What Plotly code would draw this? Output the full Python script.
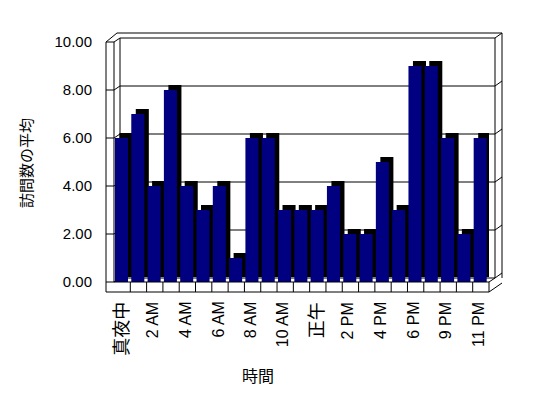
import plotly.graph_objects as go

# ---- data ----
hours = ["真夜中", "1 AM", "2 AM", "3 AM", "4 AM", "5 AM", "6 AM", "7 AM",
         "8 AM", "9 AM", "10 AM", "11 AM", "正午", "1 PM", "2 PM", "3 PM",
         "4 PM", "5 PM", "6 PM", "8 PM", "9 PM", "10 PM", "11 PM"]
visits = [6, 7, 4, 8, 4, 3, 4, 1, 6, 6, 3, 3, 3, 4, 2, 2, 5, 3, 9, 9, 6, 2, 6]
label_idx = [0, 2, 4, 6, 8, 10, 12, 14, 16, 18, 20, 22]
y_ticks = [0, 2, 4, 6, 8, 10]

# ---- layout geometry (window pixels; page body has an 8px margin) ----
BODY = 8
W, H = 548 - BODY, 398 - BODY
L, R, T, B = 114, 489, 42, 282          # front plane of plot area
ML, MR, MT, MB = L - BODY, 548 - R, T - BODY, 398 - B
n = len(hours)
cat_px = (R - L) / n
unit_px = (B - T) / 10.0
DX, DY = 4.5, 5.0                        # bar depth shading (px)
WALL = (6, 4)                            # depth to back wall face
OUT = (13, 9)                            # depth to outer wall edge
LW_X = 106                               # left wall front edge
FLOOR_Y = 292                            # floor front bottom edge
BAR_W, BAR_OFF = 0.8, -0.44
LABEL_TOP = 301
LABEL_SHIFT = -0.15

def px(x):
    return (x - L) / (R - L)

def py(y):
    return (B - y) / (B - T)

def vy(v):
    return B - v * unit_px

shapes = []
def seg(x0, y0, x1, y1, layer="above"):
    shapes.append(dict(type="line", xref="paper", yref="paper",
                       x0=px(x0), y0=py(y0), x1=px(x1), y1=py(y1),
                       line=dict(color="black", width=1), layer=layer))

# back wall gridlines and wall edges
for v in y_ticks:
    yf = vy(v)
    yb = yf - WALL[1]
    seg(L + WALL[0], yb, R + WALL[0], yb, layer="below")
    seg(L, yf, L + WALL[0], yb, layer="below")          # left wall diagonal
    seg(LW_X, yf, L, yf)                                  # left wall front face
    seg(R + WALL[0], yb, R + OUT[0], yf - OUT[1])         # right edge diagonal
seg(L + WALL[0], vy(10) - WALL[1], L + WALL[0], vy(0) - WALL[1], layer="below")
seg(R + WALL[0], vy(10) - WALL[1], R + WALL[0], vy(0) - WALL[1])
seg(R + OUT[0], vy(10) - OUT[1], R + OUT[0], vy(0) - OUT[1] + 5)
seg(LW_X + OUT[0] - 2, vy(10) - OUT[1], R + OUT[0], vy(10) - OUT[1])
seg(LW_X, vy(10), LW_X + OUT[0] - 2, vy(10) - OUT[1])
# left wall
seg(LW_X, vy(10), LW_X, FLOOR_Y)
seg(L, vy(10), L, B)
# floor
seg(L, B, R, B)
seg(LW_X, FLOOR_Y, R, FLOOR_Y)
for k in range(1, n + 1):
    seg(L + k * cat_px, B, L + k * cat_px, FLOOR_Y)
seg(R, FLOOR_Y, R + OUT[0], vy(0) - OUT[1] + 10)
seg(R, B, R + WALL[0], B - WALL[1])

fnt = "Liberation Sans, Arial, Noto Sans CJK JP"

fig = go.Figure()
x = list(range(n))
fig.add_trace(go.Bar(x=x, y=visits, base=DY / unit_px,
                     width=BAR_W, offset=BAR_OFF + DX / cat_px,
                     marker=dict(color="black", line=dict(width=0)),
                     hoverinfo="skip", showlegend=False))
fig.add_trace(go.Bar(x=x, y=visits, width=BAR_W, offset=BAR_OFF,
                     marker=dict(color="#000080", line=dict(width=0)),
                     showlegend=False))

annotations = []
for i in label_idx:
    s = hours[i]
    annotations.append(dict(
        text=s, xref="x", yref="paper", x=i + LABEL_SHIFT,
        y=py(LABEL_TOP), textangle=-90, showarrow=False,
        xanchor="center", yanchor="top", borderpad=0,
        font=dict(size=16 if s.isascii() else 18,
                  family=fnt if s.isascii() else "Noto Sans CJK JP")))
annotations += [
    dict(text="訪問数の平均", xref="paper", yref="paper",
         x=px(25), y=py(163), textangle=-90, showarrow=False,
         xanchor="center", yanchor="middle",
         font=dict(size=15, family="Noto Sans CJK JP")),
    dict(text="時間", xref="paper", yref="paper",
         x=px(258), y=py(375), showarrow=False,
         xanchor="center", yanchor="middle",
         font=dict(size=16, family="Noto Sans CJK JP")),
]

fig.update_layout(
    width=W, height=H, barmode="overlay",
    margin=dict(l=ML, r=MR, t=MT, b=MB, pad=0),
    paper_bgcolor="white", plot_bgcolor="white",
    font=dict(family=fnt, color="black"),
    shapes=shapes,
    xaxis=dict(range=[-0.5, n - 0.5], showticklabels=False,
               showgrid=False, zeroline=False, showline=False, ticks="",
               fixedrange=True),
    yaxis=dict(range=[0, 10], tickmode="array", tickvals=y_ticks,
               tickformat=".2f", tickfont=dict(size=15, family=fnt),
               showgrid=False, zeroline=False, showline=False, ticks="",
               ticklabelstandoff=21, fixedrange=True),
    annotations=annotations,
)

fig.write_html("out.html")
